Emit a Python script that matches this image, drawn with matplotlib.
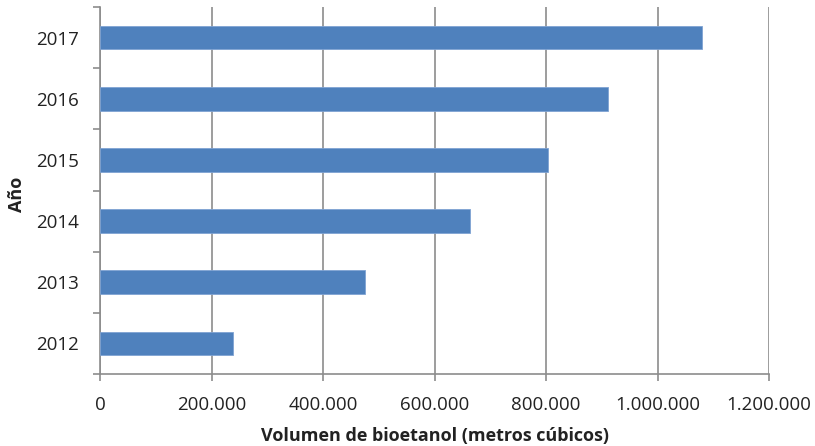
import matplotlib

matplotlib.use("Agg")
import matplotlib.pyplot as plt
from matplotlib.ticker import FuncFormatter, MultipleLocator, FixedLocator

# Volumen anual de bioetanol (metros cubicos)
anios = ["2012", "2013", "2014", "2015", "2016", "2017"]
volumen = [238000, 476000, 664000, 804000, 911000, 1080000]

x_max = 1200000
x_paso = 200000

plt.rcParams["font.family"] = ["Open Sans", "DejaVu Sans"]

fig = plt.figure(figsize=(8.15, 4.46), dpi=100)
ax = fig.add_axes([0.1227, 0.1614, 0.8209, 0.8229])

pos = list(range(len(anios)))
ax.barh(pos, volumen, height=0.385, color="#4F81BD", edgecolor="#7FA3D3",
        linewidth=0.6, zorder=3)

ax.set_xlim(0, x_max)
ax.set_ylim(-0.5, len(anios) - 0.5)

ax.xaxis.set_major_locator(MultipleLocator(x_paso))
ax.xaxis.set_major_formatter(FuncFormatter(lambda v, _: f"{v:,.0f}".replace(",", ".")))
ax.grid(axis="x", color="#8C8C8C", linewidth=1.2, zorder=0)

# etiquetas de anio centradas, marcas en los limites de cada categoria
ax.set_yticks(pos)
ax.set_yticklabels(anios)
ax.yaxis.set_minor_locator(FixedLocator([p - 0.5 for p in pos] + [len(anios) - 0.5]))
ax.tick_params(axis="y", which="major", length=0, pad=15, labelsize=13.5, colors="#222222")
ax.tick_params(axis="y", which="minor", length=5, width=1.2, color="#8C8C8C", direction="out")
ax.tick_params(axis="x", which="major", length=5, width=1.2, color="#8C8C8C", direction="out",
               pad=11, labelsize=13.5, labelcolor="#222222")

for lado in ("top", "right"):
    ax.spines[lado].set_visible(False)
for lado in ("left", "bottom"):
    ax.spines[lado].set_color("#8C8C8C")
    ax.spines[lado].set_linewidth(1.2)

ax.set_xlabel("Volumen de bioetanol (metros cúbicos)", fontsize=13, fontweight="bold",
              color="#222222", labelpad=9)
ax.set_ylabel("Año", fontsize=13, fontweight="bold", color="#222222")
ax.yaxis.set_label_coords(-0.11, 0.49)

fig.savefig("out.png", dpi=100)
plt.close(fig)
